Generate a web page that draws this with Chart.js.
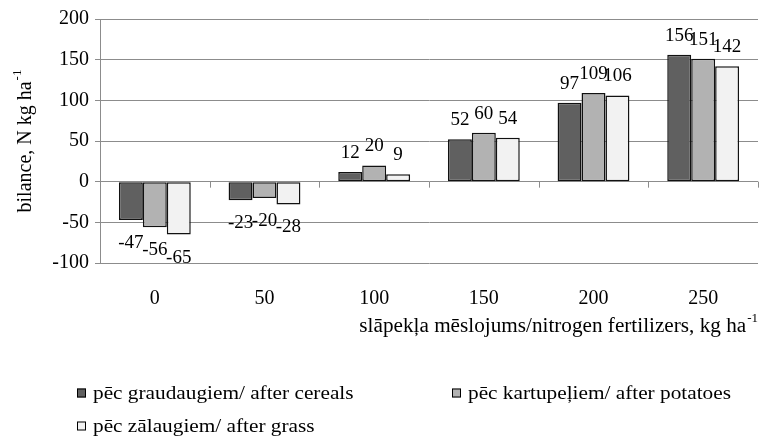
<!DOCTYPE html>
<html>
<head>
<meta charset="utf-8">
<script src="https://cdn.jsdelivr.net/npm/chart.js@4/dist/chart.umd.min.js"></script>
</head>
<body style="margin:0">
<canvas id="c" width="760" height="439"></canvas>
<script>
// ---- data ----
const categories = ['0', '50', '100', '150', '200', '250'];
const seriesNames = ['pēc graudaugiem/ after cereals', 'pēc kartupeļiem/ after potatoes', 'pēc zālaugiem/ after grass'];
const afterCereals = [-47, -23, 12, 52, 97, 156];
const afterPotatoes = [-56, -20, 20, 60, 109, 151];
const afterGrass = [-65, -28, 9, 54, 106, 142];
const yTicks = [-100, -50, 0, 50, 100, 150, 200];
const yTitle = 'bilance, N kg ha';
const xTitle = 'slāpekļa mēslojums/nitrogen fertilizers, kg ha';
const unitSup = '-1';

const SERIF = '"Liberation Serif"';
const colors = ['#606060', '#b2b2b2', '#f2f2f2'];

const cv = document.getElementById('c');
const ctx0 = cv.getContext('2d');
ctx0.font = '20px "Liberation Serif"';
ctx0.fillStyle = '#fff';
ctx0.fillText('0123456789 slāpekļa', 10, 430);

const valueLabels = {
  id: 'valueLabels',
  afterDatasetsDraw(chart) {
    const ctx = chart.ctx;
    ctx.save();
    ctx.font = '19px ' + SERIF;
    ctx.fillStyle = '#000';
    ctx.textAlign = 'center';
    ctx.textBaseline = 'middle';
    chart.data.datasets.forEach((ds, di) => {
      const meta = chart.getDatasetMeta(di);
      meta.data.forEach((bar, i) => {
        const v = ds.data[i];
        const y = v >= 0 ? bar.y - 19 : bar.y + 23;
        ctx.fillText(String(v), bar.x, y);
      });
    });
    ctx.restore();
  }
};

const extras = {
  id: 'extras',
  afterDraw(chart) {
    const ctx = chart.ctx;
    const xs = chart.scales.x, ys = chart.scales.y;
    const y0 = ys.getPixelForValue(0);
    ctx.save();
    ctx.strokeStyle = '#8c8c8c';
    ctx.lineWidth = 1;
    const n = categories.length;
    const step = (xs.right - xs.left) / n;
    for (let i = 1; i <= n; i++) {
      const x = Math.round(xs.left + i * step) + 0.5;
      ctx.beginPath();
      ctx.moveTo(x, y0);
      ctx.lineTo(x, y0 + 6);
      ctx.stroke();
    }
    ctx.fillStyle = '#000';
    // y title (rotated)
    ctx.save();
    ctx.translate(31, (ys.top + ys.bottom) / 2);
    ctx.rotate(-Math.PI / 2);
    ctx.font = '20px ' + SERIF;
    const wMain = ctx.measureText(yTitle).width;
    ctx.font = '13px ' + SERIF;
    const wSup = ctx.measureText(unitSup).width;
    const total = wMain + wSup + 1;
    ctx.textAlign = 'left';
    ctx.textBaseline = 'alphabetic';
    ctx.font = '20px ' + SERIF;
    ctx.fillText(yTitle, -total / 2, 0);
    ctx.font = '13px ' + SERIF;
    ctx.fillText(unitSup, -total / 2 + wMain + 1, -10);
    ctx.restore();
    // x title (slightly widened like the reference)
    ctx.font = '13px ' + SERIF;
    const xs2 = ctx.measureText(unitSup).width;
    ctx.textAlign = 'right';
    ctx.textBaseline = 'alphabetic';
    ctx.fillText(unitSup, 758, 322);
    ctx.save();
    ctx.translate(758 - xs2 - 1, 332);
    ctx.scale(1.06, 1);
    ctx.font = '20px ' + SERIF;
    ctx.fillText(xTitle, 0, 0);
    ctx.restore();
    // legend
    const items = [
      { x: 77, y: 393 },
      { x: 452, y: 393 },
      { x: 77, y: 426 }
    ];
    chart.data.datasets.forEach((ds, i) => {
      const p = items[i];
      ctx.fillStyle = ds.backgroundColor;
      ctx.fillRect(p.x, p.y - 4.5, 9, 9);
      ctx.strokeStyle = '#000';
      ctx.lineWidth = 1;
      ctx.strokeRect(p.x + 0.5, p.y - 4.5 + 0.5, 8, 8);
      ctx.fillStyle = '#000';
      ctx.save();
      ctx.translate(p.x + 16, p.y + 1);
      ctx.scale(1.12, 1);
      ctx.font = '19px ' + SERIF;
      ctx.textAlign = 'left';
      ctx.textBaseline = 'middle';
      ctx.fillText(ds.label, 0, 0);
      ctx.restore();
    });
    ctx.restore();
  }
};

const seriesData = [afterCereals, afterPotatoes, afterGrass];

const chart = new Chart(cv, {
  type: 'bar',
  data: {
    labels: categories,
    datasets: seriesData.map((d, i) => ({
      label: seriesNames[i],
      data: d,
      backgroundColor: colors[i],
      borderColor: '#111',
      borderWidth: 1.5,
      borderSkipped: false,
      categoryPercentage: 0.655,
      barPercentage: 1.0
    }))
  },
  options: {
    responsive: false,
    animation: false,
    layout: { padding: { top: 19, right: 2, left: 0, bottom: 0 } },
    plugins: {
      legend: { display: false },
      tooltip: { enabled: false },
      title: { display: false }
    },
    scales: {
      x: {
        grid: { display: false },
        border: { display: false },
        ticks: {
          font: { family: SERIF, size: 20 },
          color: '#000',
          padding: 16
        },
        afterFit(scale) { scale.height = 439 - 263; }
      },
      y: {
        min: -100,
        max: 200,
        afterBuildTicks(scale) { scale.ticks = yTicks.map(v => ({ value: v })); },
        grid: { color: '#8c8c8c', lineWidth: 1, tickLength: 5, drawTicks: true },
        border: { display: true, color: '#8c8c8c', width: 1 },
        ticks: {
          font: { family: SERIF, size: 20 },
          color: '#000',
          padding: 6
        },
        afterFit(scale) { scale.width = 100; }
      }
    }
  },
  plugins: [valueLabels, extras]
});

[100, 400, 1000, 2000].forEach(t => setTimeout(() => chart.update('none'), t));
if (document.fonts && document.fonts.ready) {
  document.fonts.ready.then(() => chart.update('none'));
}
</script>
</body>
</html>
